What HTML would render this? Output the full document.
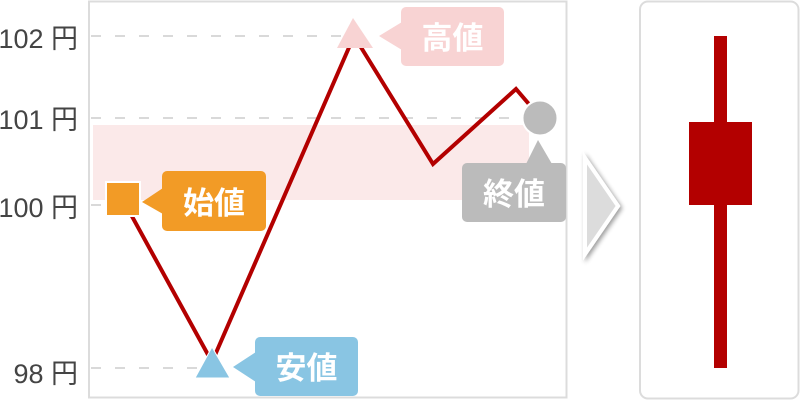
<!DOCTYPE html>
<html><head><meta charset="utf-8"><style>
html,body{margin:0;padding:0;background:#fff;}
svg{display:block;}
.ax{font-family:"Liberation Sans","Noto Sans CJK JP",sans-serif;font-size:27px;fill:#444;}
.lb{font-family:"Liberation Sans","Noto Sans CJK JP",sans-serif;font-size:31px;font-weight:bold;fill:#fff;}
</style></head><body>
<svg width="800" height="400" viewBox="0 0 800 400" xmlns="http://www.w3.org/2000/svg">
<defs>
<filter id="sh" x="-50%" y="-50%" width="200%" height="200%">
<feGaussianBlur in="SourceAlpha" stdDeviation="2.5"/>
<feOffset dx="2" dy="2" result="b"/>
<feComponentTransfer><feFuncA type="linear" slope="0.4"/></feComponentTransfer>
<feMerge><feMergeNode/><feMergeNode in="SourceGraphic"/></feMerge>
</filter>
</defs>
<!-- left panel -->
<rect x="89" y="1.5" width="477.5" height="396" fill="#fff" stroke="#dcdcdc" stroke-width="2"/>
<!-- pink band -->
<rect x="93" y="125" width="436" height="75" fill="#fbe9e9"/>
<!-- grid lines -->
<g stroke="#d9d9d9" stroke-width="2" stroke-dasharray="10 14">
<line x1="91" y1="36" x2="345" y2="36"/>
<line x1="91" y1="118" x2="515" y2="118"/>
<line x1="91" y1="205" x2="105" y2="205"/>
<line x1="91" y1="368" x2="200" y2="368"/>
</g>
<!-- axis labels -->
<text class="ax" x="78" y="48" text-anchor="end">102 円</text>
<text class="ax" x="78" y="129" text-anchor="end">101 円</text>
<text class="ax" x="78" y="217" text-anchor="end">100 円</text>
<text class="ax" x="78" y="383" text-anchor="end">98 円</text>
<!-- price line -->
<polyline points="123,200 212,362 354,36 433,164 516,89 540,117" fill="none" stroke="#b30000" stroke-width="4" stroke-linejoin="miter"/>
<!-- markers -->
<rect x="106" y="182" width="34" height="34" fill="#f29b26" stroke="#fff" stroke-width="2"/>
<polygon points="212,347 195,378 230,378" fill="#89c5e3" stroke="#fff" stroke-width="1"/>
<polygon points="353,18 337,48 373,48" fill="#f8d3d3"/>
<circle cx="540" cy="118" r="17.5" fill="#bbbbbb" stroke="#fff" stroke-width="2"/>
<!-- label 始値 -->
<rect x="162" y="171" width="104" height="60" rx="5" fill="#f29b26"/>
<polygon points="142,202 163,188 163,214" fill="#f29b26"/>
<text class="lb" x="214" y="214" text-anchor="middle">始値</text>
<!-- label 安値 -->
<rect x="255" y="337" width="103" height="59" rx="5" fill="#89c5e3"/>
<polygon points="233,367 256,352 256,382" fill="#89c5e3"/>
<text class="lb" x="306.5" y="379" text-anchor="middle">安値</text>
<!-- label 高値 -->
<rect x="401" y="7" width="103" height="59" rx="5" fill="#f8d3d3"/>
<polygon points="379,36 402,22 402,50" fill="#f8d3d3"/>
<text class="lb" x="452.5" y="49" text-anchor="middle">高値</text>
<!-- label 終値 -->
<rect x="462" y="163" width="104" height="59" rx="5" fill="#bbbbbb"/>
<polygon points="538,140 526,164 552,164" fill="#bbbbbb"/>
<text class="lb" x="514" y="205" text-anchor="middle">終値</text>
<!-- chevron -->
<polygon points="585,158 618,206 585,254" fill="#dcdcdc" stroke="#fff" stroke-width="4" stroke-linejoin="miter" filter="url(#sh)"/>
<!-- right panel -->
<rect x="640" y="1.5" width="158.5" height="397" rx="8" fill="#fff" stroke="#dcdcdc" stroke-width="2"/>
<rect x="714" y="36" width="13" height="332" fill="#b30000"/>
<rect x="689" y="122" width="63" height="83" fill="#b30000"/>
</svg>
</body></html>
